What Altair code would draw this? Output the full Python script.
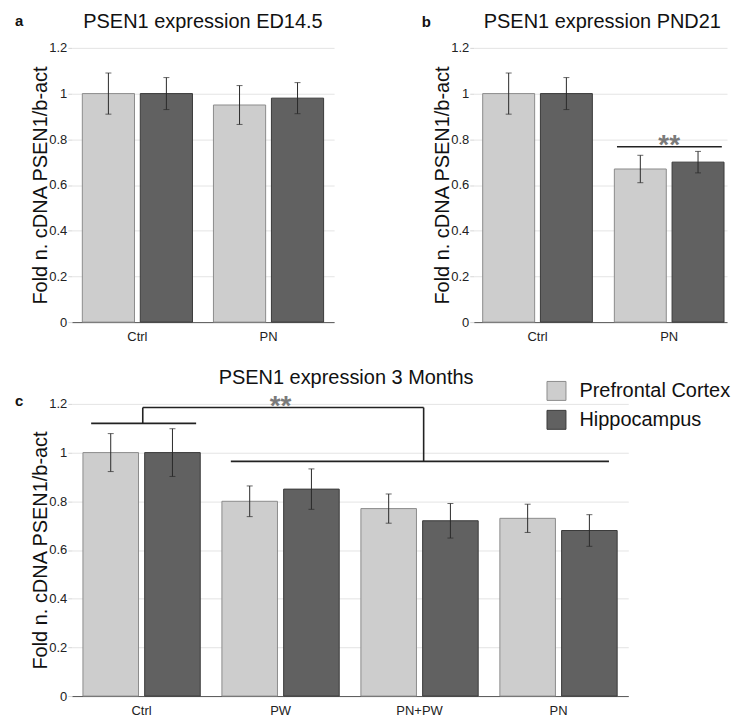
import altair as alt
import pandas as pd

# ---------------- data ----------------
regions = ["Prefrontal Cortex", "Hippocampus"]
fill_colors = ["#cdcdcd", "#616161"]
edge_colors = ["#8c8c8c", "#3a3a3a"]

panel_letters = ["a", "b", "c"]
panel_titles = ["PSEN1 expression ED14.5", "PSEN1 expression PND21", "PSEN1 expression 3 Months"]
y_title = "Fold n. cDNA PSEN1/b-act"
y_ticks = [0, 0.2, 0.4, 0.6, 0.8, 1.0, 1.2]

groups_a = ["Ctrl", "PN"]
pfc_a = [1.00, 0.95]
pfc_a_err = [0.09, 0.085]
hip_a = [1.00, 0.98]
hip_a_err = [0.07, 0.068]

groups_b = ["Ctrl", "PN"]
pfc_b = [1.00, 0.67]
pfc_b_err = [0.09, 0.06]
hip_b = [1.00, 0.70]
hip_b_err = [0.07, 0.047]

groups_c = ["Ctrl", "PW", "PN+PW", "PN"]
pfc_c = [1.00, 0.80, 0.77, 0.73]
pfc_c_err = [0.078, 0.063, 0.060, 0.058]
hip_c = [1.00, 0.85, 0.72, 0.68]
hip_c_err = [0.098, 0.083, 0.071, 0.065]

sig_label = "**"
# bracket segments: (group, band fraction, group2, band fraction, y, y2)
bracket_b = [("PN", 0.024, "PN", 0.98, 0.767, 0.767)]
bracket_c = [
    ("Ctrl", 0.07, "Ctrl", 0.965, 1.12, 1.12),
    ("Ctrl", 0.51, "Ctrl", 0.51, 1.12, 1.185),
    ("Ctrl", 0.51, "PN+PW", 0.535, 1.185, 1.185),
    ("PN+PW", 0.535, "PN+PW", 0.535, 1.185, 0.964),
    ("PW", 0.076, "PN", 0.93, 0.964, 0.964),
]
stars_b = [("PN", 0.767)]
stars_c = [("PW", 1.185)]

FONT = "Liberation Sans"


def make_table(groups, pfc, pfc_err, hip, hip_err):
    rows = []
    for region, vals, errs in ((regions[0], pfc, pfc_err), (regions[1], hip, hip_err)):
        for g, v, e in zip(groups, vals, errs):
            rows.append({"group": g, "region": region, "value": v, "lo": v - e, "hi": v + e})
    return pd.DataFrame(rows)


def panel(df, groups, width, height, band, letter, title, title_x, letter_xy,
          brackets, stars, legend=None):
    xs = alt.Scale(domain=groups, **band)
    ys = alt.Scale(domain=[0, 1.2], nice=False, zero=True)
    xo = alt.XOffset("region:N", scale=alt.Scale(domain=regions, paddingInner=0.1, paddingOuter=0))

    def X(field="group", **kw):
        return alt.X(f"{field}:N", scale=xs, title=None, **kw)

    def Y(field):
        return alt.Y(f"{field}:Q", scale=ys, title=y_title,
                     axis=alt.Axis(values=y_ticks, format="~g"))

    base = alt.Chart(df)
    bars = base.mark_bar(strokeWidth=1).encode(
        x=X(), xOffset=xo, y=Y("value"),
        color=alt.Color("region:N", scale=alt.Scale(domain=regions, range=fill_colors), legend=legend),
        stroke=alt.Stroke("region:N", scale=alt.Scale(domain=regions, range=edge_colors), legend=None),
    )
    err = base.mark_rule(color="#2a2a2a", strokeWidth=1).encode(
        x=X(), xOffset=xo, y=Y("lo"), y2=alt.Y2("hi"))
    cap_lo = base.mark_tick(color="#2a2a2a", thickness=1, size=6, orient="horizontal").encode(
        x=X(), xOffset=xo, y=Y("lo"))
    cap_hi = base.mark_tick(color="#2a2a2a", thickness=1, size=6, orient="horizontal").encode(
        x=X(), xOffset=xo, y=Y("hi"))
    layers = [bars, err, cap_lo, cap_hi]

    for (g1, b1, g2, b2, y1, y2) in brackets:
        seg = alt.Chart(pd.DataFrame([{"group": g1, "group2": g2, "y": y1, "y2": y2}])).mark_rule(
            color="#222", strokeWidth=1.6).encode(
            x=X(bandPosition=b1), x2=alt.X2("group2", bandPosition=b2),
            y=Y("y"), y2=alt.Y2("y2"))
        layers.append(seg)
    for (g, y) in stars:
        st = alt.Chart(pd.DataFrame([{"group": g, "y": y, "label": sig_label}])).mark_text(
            fontSize=28, fontWeight="bold", color="#7a7a7a", baseline="alphabetic", dy=7).encode(
            x=X(), y=Y("y"), text="label:N")
        layers.append(st)

    tmark = alt.Chart(pd.DataFrame([{"t": title}])).mark_text(
        fontSize=20, color="#111", baseline="alphabetic", align="center").encode(
        x=alt.value(title_x), y=alt.value(-20), text="t:N")
    lmark = alt.Chart(pd.DataFrame([{"t": letter}])).mark_text(
        fontSize=15, fontWeight="bold", color="#111", baseline="alphabetic", align="left").encode(
        x=alt.value(letter_xy[0]), y=alt.value(letter_xy[1]), text="t:N")
    layers += [tmark, lmark]
    return alt.layer(*layers).properties(width=width, height=height)


df_a = make_table(groups_a, pfc_a, pfc_a_err, hip_a, hip_a_err)
df_b = make_table(groups_b, pfc_b, pfc_b_err, hip_b, hip_b_err)
df_c = make_table(groups_c, pfc_c, pfc_c_err, hip_c, hip_c_err)

pa = panel(df_a, groups_a, 263, 275, dict(paddingInner=0.16, paddingOuter=0.08),
           panel_letters[0], panel_titles[0], 131.5, (-57, -22), [], [])
pb = panel(df_b, groups_b, 254, 275, dict(paddingInner=0.167, paddingOuter=0.0455, align=0.75),
           panel_letters[1], panel_titles[1], 129, (-52, -21), bracket_b, stars_b)
legend_c = alt.Legend(title=None, orient="none", legendX=476, legendY=-23,
                      symbolType="square", symbolSize=361, symbolStrokeWidth=1,
                      symbolStrokeColor="#8a8a8a", labelFontSize=20, labelColor="#111",
                      labelFont=FONT, labelOffset=13, rowPadding=5, padding=0)
pc = panel(df_c, groups_c, 558, 293, dict(paddingInner=0.156, paddingOuter=0.08),
           panel_letters[2], panel_titles[2], 275, (-57, 2), bracket_c, stars_c, legend=legend_c)

top = alt.hconcat(pa, pb, spacing=88).resolve_scale(xOffset="independent")
chart = (
    alt.vconcat(top, pc, spacing=25)
    .resolve_scale(color="independent", stroke="independent", xOffset="independent")
    .properties(padding={"left": 7, "top": 3, "right": 0, "bottom": 0})
    .configure(font=FONT)
    .configure_view(stroke=None)
    .configure_axisY(
        grid=True, gridColor="#e4e4e4", gridWidth=1, domain=False,
        ticks=True, tickColor="#d6d6d6", tickSize=4,
        labelFont=FONT, labelFontSize=13, labelColor="#222", labelPadding=1,
        titleFont=FONT, titleFontSize=20, titleFontWeight="normal", titleColor="#111",
        titlePadding=3, minExtent=18, maxExtent=18,
    )
    .configure_axisX(
        grid=False, domain=True, domainColor="#555", domainWidth=1, ticks=False,
        labelFont=FONT, labelFontSize=13, labelColor="#222", labelPadding=8, labelAngle=0,
    )
)

chart.save("out.html", embed_options={"renderer": "svg", "actions": False})
